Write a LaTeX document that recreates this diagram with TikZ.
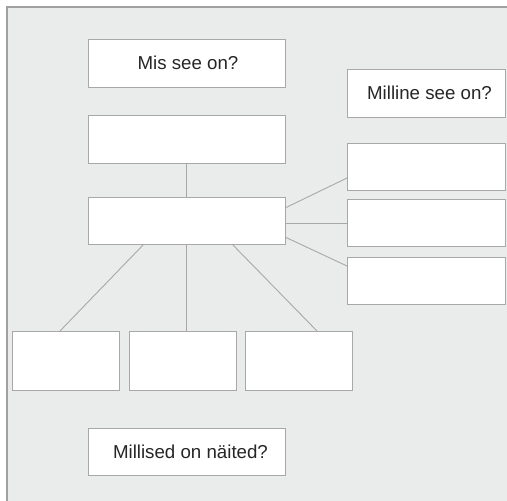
\documentclass[tikz,border=0pt]{standalone}
\usepackage{fontspec}
\setmainfont{Liberation Sans}
\definecolor{panelbg}{HTML}{EAEBEB}
\definecolor{panelline}{HTML}{A0A0A0}
\definecolor{boxline}{HTML}{A8A8A8}
\definecolor{txt}{HTML}{262626}
\tikzset{
  box/.style={draw=boxline, line width=0.95pt, fill=white},
  conn/.style={draw=boxline, line width=0.9pt},
  lbl/.style={text=txt, font=\fontsize{18.7}{22}\selectfont, inner sep=0pt}
}
\begin{document}
\begin{tikzpicture}[x=1pt,y=-1pt]
\useasboundingbox (0,0) rectangle (507,501);
\fill[white] (0,0) rectangle (507,501);
\fill[panelbg] (7,7) rectangle (507,501);
\draw[panelline, line width=1.2pt] (7,501) -- (7,7) -- (507,7);
% boxes
\path[box] (88,39) rectangle (285,87);
\node[lbl] (q1) at (188,63) {Mis see on?};
\path[box] (88,115) rectangle (285,163);
\coordinate (b2b) at (186.5,163);
\path[box] (88,197) rectangle (285,244);
\coordinate (ct) at (186.5,197);
\coordinate (cb1) at (144,244);
\coordinate (cb2) at (186.5,244);
\coordinate (cb3) at (232,244);
\coordinate (cr1) at (285,208);
\coordinate (cr2) at (285,223);
\coordinate (cr3) at (285,237);
\path[box] (347,69) rectangle (505,117);
\node[lbl] (q2) at (429.5,93) {Milline see on?};
\path[box] (347,143) rectangle (505,190);
\coordinate (r1) at (347,178);
\path[box] (347,199) rectangle (505,246);
\coordinate (r2) at (347,223);
\path[box] (347,257) rectangle (505,304);
\coordinate (r3) at (347,266);
\path[box] (12,331) rectangle (119,390);
\coordinate (d1) at (60,331);
\path[box] (129,331) rectangle (236,390);
\coordinate (d2) at (186.5,331);
\path[box] (245,331) rectangle (352,390);
\coordinate (d3) at (317,331);
\path[box] (88,428) rectangle (285,475);
\node[lbl] (q3) at (190.5,452) {Millised on näited?};
% connectors
\draw[conn] (b2b) -- (ct);
\draw[conn] (cr1) -- (r1);
\draw[conn] (cr2) -- (r2);
\draw[conn] (cr3) -- (r3);
\draw[conn] (cb1) -- (d1);
\draw[conn] (cb2) -- (d2);
\draw[conn] (cb3) -- (d3);
\end{tikzpicture}
\end{document}
